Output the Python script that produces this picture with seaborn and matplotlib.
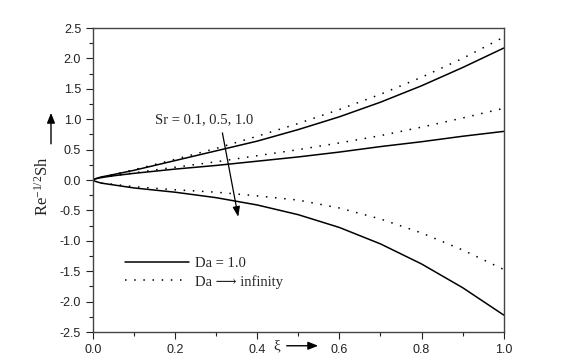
import numpy as np
import pandas as pd
import matplotlib
matplotlib.use("Agg")
import matplotlib.pyplot as plt
import seaborn as sns
from matplotlib.lines import Line2D

# --- data ---
xi = [0.0, 0.005, 0.01, 0.02, 0.05, 0.1, 0.2, 0.3, 0.4, 0.5, 0.6, 0.7, 0.8, 0.9, 1.0]

# Da = 1.0 (solid)
sh_da1_sr01 = [0.0, 0.02, 0.03, 0.05, 0.09, 0.16, 0.32, 0.48, 0.64, 0.83, 1.04, 1.28, 1.55, 1.85, 2.17]
sh_da1_sr05 = [0.0, 0.015, 0.025, 0.04, 0.07, 0.11, 0.18, 0.24, 0.31, 0.38, 0.46, 0.55, 0.63, 0.72, 0.80]
sh_da1_sr10 = [0.0, -0.02, -0.03, -0.05, -0.08, -0.13, -0.20, -0.29, -0.41, -0.57, -0.78, -1.05, -1.38, -1.77, -2.22]

# Da -> infinity (dotted)
sh_dainf_sr01 = [0.0, 0.02, 0.03, 0.05, 0.09, 0.17, 0.34, 0.52, 0.72, 0.93, 1.16, 1.41, 1.69, 2.00, 2.35]
sh_dainf_sr05 = [0.0, 0.015, 0.025, 0.04, 0.07, 0.12, 0.21, 0.30, 0.40, 0.50, 0.61, 0.73, 0.87, 1.02, 1.18]
sh_dainf_sr10 = [0.0, -0.02, -0.03, -0.05, -0.07, -0.11, -0.16, -0.20, -0.26, -0.33, -0.46, -0.64, -0.87, -1.15, -1.47]

series = {
    ("1.0", "0.1"): sh_da1_sr01,
    ("1.0", "0.5"): sh_da1_sr05,
    ("1.0", "1.0"): sh_da1_sr10,
    ("inf", "0.1"): sh_dainf_sr01,
    ("inf", "0.5"): sh_dainf_sr05,
    ("inf", "1.0"): sh_dainf_sr10,
}

rows = []
for (da, sr), vals in series.items():
    for x, v in zip(xi, vals):
        rows.append({"xi": x, "Sh": v, "Da": da, "Sr": sr})
df = pd.DataFrame(rows)

# --- styling ---
sns.set_theme(style="ticks")
plt.rcParams["font.family"] = ["Liberation Sans", "DejaVu Sans"]
plt.rcParams["axes.unicode_minus"] = False
plt.rcParams["mathtext.fontset"] = "custom"
plt.rcParams["mathtext.rm"] = "Liberation Serif"
plt.rcParams["mathtext.default"] = "rm"
serif = ["Liberation Serif", "DejaVu Serif"]

fig = plt.figure(figsize=(5.77, 3.59), dpi=100)
ax = fig.add_axes([0.161, 0.075, 0.712, 0.847])

sns.lineplot(
    data=df,
    x="xi",
    y="Sh",
    style="Da",
    units="Sr",
    estimator=None,
    color="black",
    linewidth=1.1,
    dashes={"1.0": "", "inf": (1, 5)},
    legend=False,
    ax=ax,
)

ax.set_xlim(0, 1.0)
ax.set_ylim(-2.5, 2.5)
ax.set_xticks(np.arange(0, 1.01, 0.2))
ax.set_yticks(np.arange(-2.5, 2.51, 0.5))
ax.set_xticks(np.arange(0, 1.01, 0.1), minor=True)
ax.set_yticks(np.arange(-2.5, 2.51, 0.25), minor=True)
ax.tick_params(which="major", direction="out", length=5, width=0.8, labelsize=9,
               top=False, right=False, colors="#222222")
ax.tick_params(which="minor", direction="out", length=3, width=0.8,
               top=False, right=False, colors="#222222")
for s in ax.spines.values():
    s.set_visible(True)
    s.set_linewidth(1.0)
    s.set_color("#444444")

# axis labels with arrows
ax.set_xlabel("")
ax.set_ylabel("Re$^{-1/2}$Sh", fontsize=12, family=serif)
ax.yaxis.set_label_coords(-0.1, 0.48)
ax.annotate("", xy=(-0.102, 0.73), xytext=(-0.102, 0.61), xycoords="axes fraction",
            arrowprops=dict(arrowstyle="-|>,head_length=0.5,head_width=0.2",
                            color="black", lw=1.0), annotation_clip=False)
ax.text(0.455, -0.045, "ξ", transform=ax.transAxes, fontsize=11, family=serif,
        ha="right", va="center")
ax.annotate("", xy=(0.555, -0.045), xytext=(0.465, -0.045), xycoords="axes fraction",
            arrowprops=dict(arrowstyle="-|>,head_length=0.5,head_width=0.2",
                            color="black", lw=1.0), annotation_clip=False)

# Sr annotation
ax.text(0.27, 0.99, "Sr = 0.1, 0.5, 1.0", fontsize=10.5, family=serif,
        ha="center", va="center")
ax.annotate("", xy=(0.355, -0.65), xytext=(0.314, 0.82),
            arrowprops=dict(arrowstyle="-|>,head_length=0.5,head_width=0.18",
                            color="black", lw=0.9))

# legend
handles = [
    Line2D([], [], color="black", lw=1.1),
    Line2D([], [], color="black", lw=1.1, dashes=(1, 5)),
]
ax.legend(handles, ["Da = 1.0", "Da ⟶ infinity"], loc="lower left",
          bbox_to_anchor=(0.045, 0.1), frameon=False, handlelength=4.4,
          handletextpad=0.4, labelspacing=0.35, prop={"family": serif, "size": 10.5})

fig.savefig("out.png", dpi=100)
